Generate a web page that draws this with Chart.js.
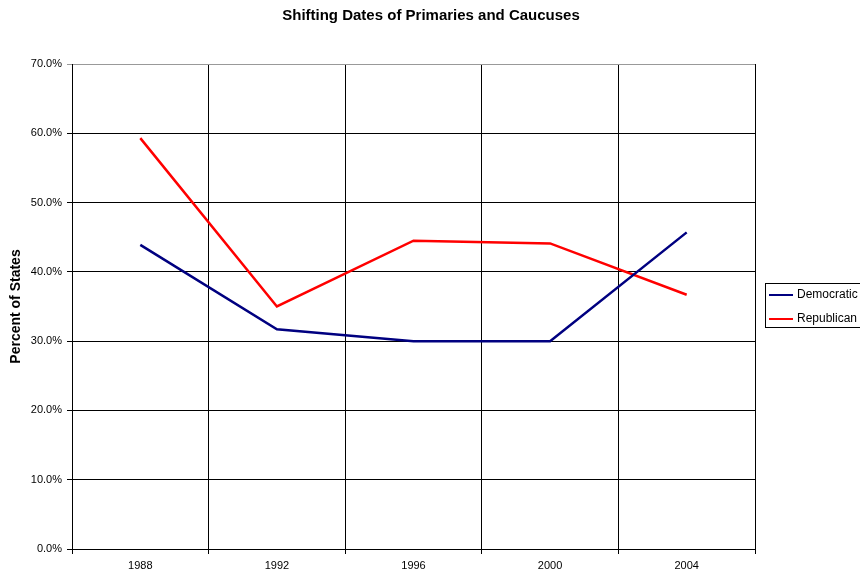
<!DOCTYPE html>
<html>
<head>
<meta charset="utf-8">
<script src="https://cdn.jsdelivr.net/npm/chart.js@4"></script>
<style>
  html, body { margin: 0; padding: 0; background: #fff; overflow: hidden; }
  #caja { width: 860px; height: 572px; }
</style>
</head>
<body>
<div id="caja"><canvas id="grafica"></canvas></div>
<script>
// Datos (porcentaje de estados)
const anios = ['1988', '1992', '1996', '2000', '2004'];
const democratas = [43.9, 31.7, 30.0, 30.0, 45.7];
const republicanos = [59.3, 35.0, 44.5, 44.1, 36.7];
const tituloGrafica = 'Shifting Dates of Primaries and Caucuses';
const tituloEjeY = 'Percent of States';

const fuente = '"Liberation Sans", Arial, sans-serif';

// Título y leyenda dibujados a mano, como en el original (leyenda cortada a la derecha)
const extras = {
  id: 'extras',
  afterDraw(chart) {
    const c = chart.ctx;
    c.save();
    c.fillStyle = '#000';
    c.font = 'bold 15px ' + fuente;
    c.textAlign = 'center';
    c.textBaseline = 'middle';
    c.fillText(tituloGrafica, 431, 16);

    // leyenda
    c.strokeStyle = '#000';
    c.lineWidth = 1;
    c.strokeRect(765.5, 283.5, 120, 44);
    c.font = '12px ' + fuente;
    c.textAlign = 'left';
    chart.data.datasets.forEach((ds, i) => {
      const y = 295 + i * 24;
      c.strokeStyle = ds.borderColor;
      c.lineWidth = 2;
      c.beginPath();
      c.moveTo(769, y);
      c.lineTo(793, y);
      c.stroke();
      c.fillStyle = '#000';
      c.fillText(ds.label, 797, y);
    });
    c.restore();
  }
};

new Chart(document.getElementById('grafica'), {
  type: 'line',
  data: {
    labels: anios,
    datasets: [
      { label: 'Democratic', data: democratas, borderColor: '#000080', borderWidth: 2.5, pointRadius: 0, tension: 0 },
      { label: 'Republican', data: republicanos, borderColor: '#ff0000', borderWidth: 2.5, pointRadius: 0, tension: 0 },
    ],
  },
  options: {
    responsive: true,
    maintainAspectRatio: false,
    animation: false,
    layout: { padding: { top: 64, right: 105, bottom: 0, left: 0 } },
    plugins: { legend: { display: false }, title: { display: false }, tooltip: { enabled: false } },
    scales: {
      x: {
        offset: true,
        grid: {
          offset: true,
          color: ctx => ctx.index === anios.length ? '#999' : '#000',
          lineWidth: 1,
          tickLength: 5,
        },
        border: { color: '#000', width: 1 },
        ticks: { color: '#000', font: { family: fuente, size: 11 }, padding: 5, maxRotation: 0 },
        afterFit: s => { s.height = 23; },
      },
      y: {
        min: 0,
        max: 70,
        ticks: {
          stepSize: 10,
          color: '#000',
          font: { family: fuente, size: 11 },
          padding: 5,
          callback: v => v.toFixed(1) + '%',
        },
        grid: {
          color: ctx => ctx.tick && ctx.tick.value === 70 ? '#999' : '#000',
          lineWidth: 1,
          tickLength: 5,
        },
        border: { color: '#000', width: 1 },
        title: {
          display: true,
          text: tituloEjeY,
          color: '#000',
          font: { family: fuente, size: 14, weight: 'bold' },
          padding: { top: 8, bottom: 0 },
        },
        afterFit: s => { s.width = 72; },
      },
    },
  },
  plugins: [extras],
});
</script>
</body>
</html>
